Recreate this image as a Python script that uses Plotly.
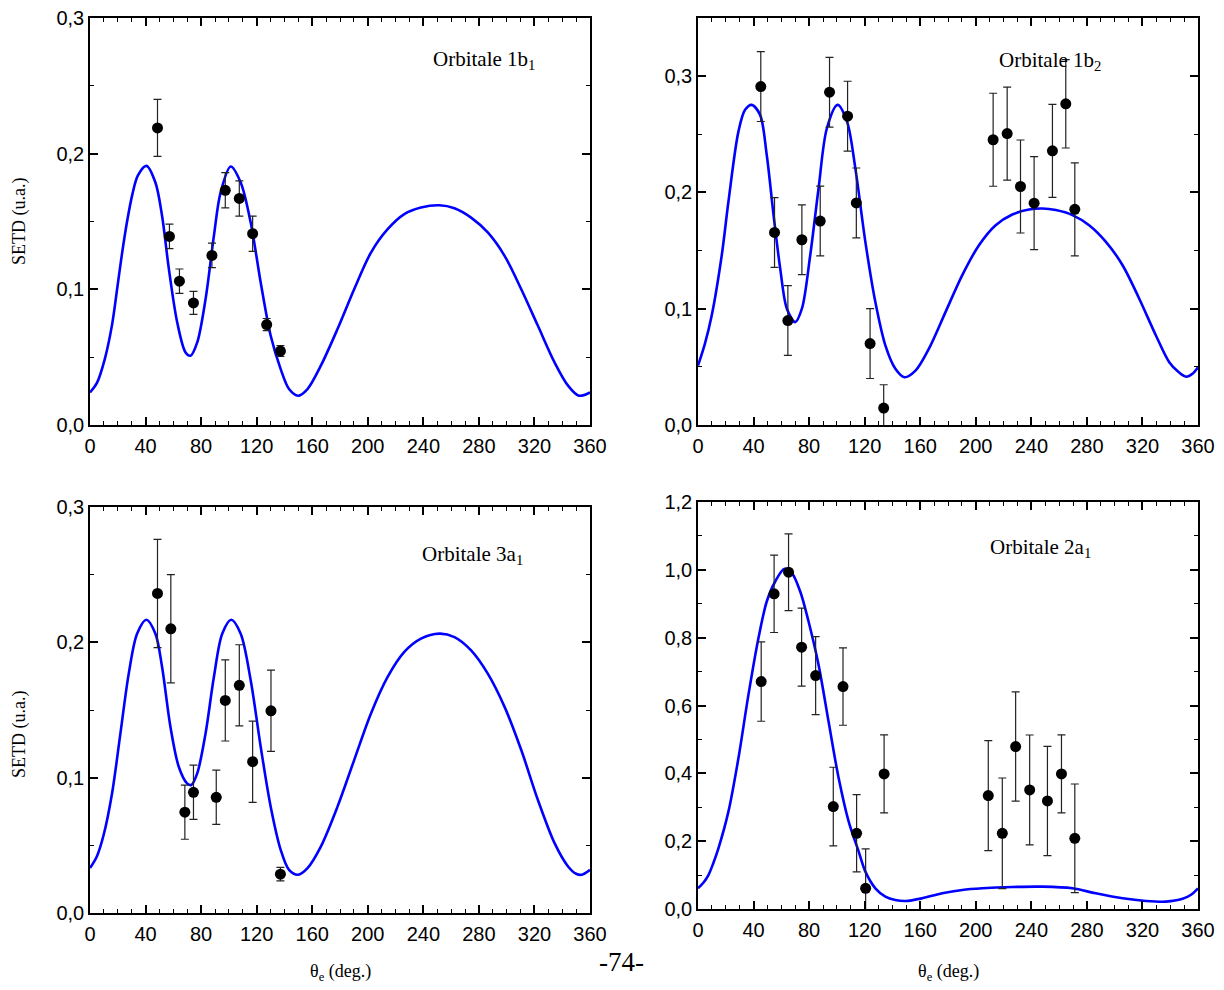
import plotly.graph_objects as go

# ---------------- data ----------------
# Panel 1 : Orbitale 1b1
p1_x = [48.6, 57.2, 64.4, 74.5, 87.8, 97.4, 107.5, 117.1, 127.2, 137.1]
p1_y = [0.219, 0.139, 0.106, 0.090, 0.125, 0.173, 0.167, 0.141, 0.074, 0.0545]
p1_e = [0.021, 0.009, 0.009, 0.0085, 0.009, 0.013, 0.013, 0.013, 0.0045, 0.004]
c1_x = [0, 5, 10.5, 15.9, 19.5, 23.0, 26.7, 30.5, 34.5, 40.6, 47.1, 51.9, 56.8, 62.8, 68.8,
        72.4, 77.2, 83.2, 89.2, 94.0, 101.3, 108.5, 115.7, 122.9, 130.1, 137.3, 143.3, 149.8,
        156.6, 166.2, 178.2, 190.2, 202.3, 214.3, 226.3, 238.3, 251.6, 262.4, 274.4, 286.4,
        298.5, 310.5, 322.5, 334.5, 344.2, 352.0, 360]
c1_y = [0.024, 0.031, 0.048, 0.074, 0.100, 0.126, 0.150, 0.170, 0.184, 0.191, 0.1787, 0.1541,
        0.1149, 0.0756, 0.0535, 0.0511, 0.0609, 0.0928, 0.1394, 0.1713, 0.1905, 0.1787,
        0.1492, 0.1051, 0.0658, 0.0412, 0.0265, 0.0216, 0.0265, 0.0437, 0.0707, 0.1001,
        0.1271, 0.1443, 0.1554, 0.1603, 0.162, 0.1598, 0.1529, 0.1419, 0.1247, 0.1001,
        0.0731, 0.0461, 0.029, 0.0216, 0.024]

# Panel 2 : Orbitale 1b2
p2_x = [45.2, 55.1, 64.7, 74.8, 88.0, 94.7, 107.7, 114.0, 123.9, 133.7,
        212.5, 222.6, 232.2, 242.0, 255.2, 264.8, 271.3]
p2_y = [0.291, 0.1656, 0.0898, 0.1593, 0.1754, 0.2862, 0.2656, 0.191, 0.070, 0.0146,
        0.2453, 0.2506, 0.2051, 0.1908, 0.2358, 0.2762, 0.1855]
p2_e = [0.030, 0.030, 0.030, 0.030, 0.030, 0.030, 0.030, 0.030, 0.030, 0.020,
        0.040, 0.040, 0.040, 0.040, 0.040, 0.038, 0.040]
c2_x = [0, 5, 9.9, 17.1, 21.9, 29.1, 33.9, 38.7, 44.7, 49.5, 54.4, 59.2, 64.0, 70.0, 74.8, 80.8,
        86.8, 92.8, 100.5, 107.3, 113.3, 120.5, 127.7, 134.9, 142.1, 148.6, 156.6, 166.2,
        178.2, 190.2, 202.3, 214.3, 226.3, 238.3, 248.0, 257.6, 269.6, 281.6, 293.7, 305.7,
        317.7, 329.7, 339.3, 346.0, 351.4, 356.0, 360]
c2_y = [0.0511, 0.070, 0.0943, 0.146, 0.192, 0.2523, 0.271, 0.2753, 0.2667, 0.2322, 0.1805,
        0.1345, 0.100, 0.0885, 0.100, 0.146, 0.2034, 0.2552, 0.2753, 0.2609, 0.2207, 0.1575,
        0.1057, 0.0684, 0.0483, 0.0411, 0.0468, 0.0655, 0.0971, 0.1287, 0.1546, 0.1718,
        0.181, 0.1853, 0.1862, 0.1848, 0.1805, 0.1718, 0.1575, 0.1374, 0.1086, 0.077,
        0.054, 0.0455, 0.0415, 0.0440, 0.0497]

# Panel 3 : Orbitale 3a1
p3_x = [48.6, 58.2, 68.3, 74.5, 90.9, 97.4, 107.5, 117.1, 130.3, 137.1]
p3_y = [0.2361, 0.210, 0.0745, 0.0892, 0.0855, 0.1571, 0.1682, 0.1118, 0.1494, 0.0287]
p3_e = [0.040, 0.040, 0.020, 0.020, 0.020, 0.030, 0.030, 0.030, 0.030, 0.005]
c3_x = [0, 5, 9.9, 15.9, 21.9, 27.9, 33.9, 40.6, 47.1, 51.9, 57.9, 63.9, 69.9, 72.9, 77.2, 83.2,
        89.2, 95.2, 101.7, 108.5, 115.7, 122.9, 130.1, 137.3, 143.3, 149.8, 156.6, 166.2,
        178.2, 190.2, 202.3, 214.3, 226.3, 238.3, 251.6, 262.4, 274.4, 286.4, 298.5, 310.5,
        322.5, 334.5, 344.2, 350.0, 354.1, 360]
c3_y = [0.0332, 0.042, 0.058, 0.0885, 0.1327, 0.1769, 0.2064, 0.2167, 0.2064, 0.1818, 0.1376,
        0.1081, 0.0958, 0.0946, 0.1032, 0.1327, 0.1744, 0.2064, 0.2167, 0.2064, 0.172, 0.1229,
        0.0786, 0.0467, 0.0319, 0.0283, 0.0332, 0.0491, 0.0786, 0.113, 0.1474, 0.1744,
        0.1929, 0.2027, 0.2064, 0.2039, 0.1941, 0.1769, 0.1523, 0.1204, 0.0835, 0.0516,
        0.0344, 0.0290, 0.0283, 0.0319]

# Panel 4 : Orbitale 2a1
p4_x = [45.5, 54.8, 65.2, 74.6, 84.7, 97.4, 104.4, 114.2, 120.7, 134.0,
        209.0, 219.1, 228.7, 238.8, 251.6, 261.7, 271.3]
p4_y = [0.6706, 0.9292, 0.993, 0.7719, 0.6883, 0.3019, 0.6558, 0.2232, 0.061, 0.3982,
        0.3343, 0.2232, 0.4789, 0.351, 0.3186, 0.3982, 0.2085]
p4_e = [0.117, 0.114, 0.113, 0.115, 0.115, 0.116, 0.114, 0.114, 0.116, 0.115,
        0.162, 0.163, 0.161, 0.162, 0.161, 0.115, 0.160]
c4_x = [0, 4, 7.5, 11, 14.7, 21.9, 29.1, 36.3, 43.5, 49.5, 55.6, 62.3, 67.6, 73.6, 79.6, 86.8,
        94.0, 101.3, 108.5, 115.7, 120.5, 127.7, 134.9, 142.1, 149.4, 161.4, 175.8, 190.2,
        204.7, 226.3, 248.0, 269.6, 286.4, 305.7, 322.5, 336.9, 348.9, 355.0, 360]
c4_y = [0.061, 0.078, 0.100, 0.135, 0.179, 0.2871, 0.4444, 0.6313, 0.7984, 0.9066, 0.9656,
        1.003, 0.9902, 0.9361, 0.8476, 0.7198, 0.5526, 0.3855, 0.2576, 0.1691, 0.1101, 0.061,
        0.0364, 0.0265, 0.0236, 0.0315, 0.0462, 0.056, 0.061, 0.0649, 0.0659, 0.061, 0.0462,
        0.0315, 0.0236, 0.0216, 0.0300, 0.042, 0.061]

x_ticks = [0, 40, 80, 120, 160, 200, 240, 280, 320, 360]
y_ticks_small = [0.0, 0.1, 0.2, 0.3]
y_ticks_big = [0.0, 0.2, 0.4, 0.6, 0.8, 1.0, 1.2]
labels = ["Orbitale 1b<sub>1</sub>", "Orbitale 1b<sub>2</sub>",
          "Orbitale 3a<sub>1</sub>", "Orbitale 2a<sub>1</sub>"]


def fmt(v):
    return ("%.1f" % v).replace(".", ",")


# ---------------- figure ----------------
# the page body adds an 8 px margin; positions below are in reference-image pixels
OFF = 8
W, H = 1224 - OFF, 990 - OFF


def px(xp):
    return (xp - OFF) / W


def py(yp):
    return 1 - (yp - OFF) / H


fig = go.Figure()

panels = [
    (c1_x, c1_y, p1_x, p1_y, p1_e, (90, 590), (18, 425), [0, 0.3], y_ticks_small, 0.05),
    (c2_x, c2_y, p2_x, p2_y, p2_e, (698, 1198), (18, 425), [0, 0.35], y_ticks_small, 0.05),
    (c3_x, c3_y, p3_x, p3_y, p3_e, (90, 590), (507, 913), [0, 0.3], y_ticks_small, 0.05),
    (c4_x, c4_y, p4_x, p4_y, p4_e, (698, 1198), (502, 909), [0, 1.2], y_ticks_big, 0.1),
]
label_pos = [(484, 60), (1050, 61), (472, 555), (1040, 548)]

tickfont = dict(family="Liberation Sans, Arial, sans-serif", size=20, color="black")

for i, (cx, cy, qx, qy, qe, xr, yr, yrange, yt, yminor) in enumerate(panels):
    n = "" if i == 0 else str(i + 1)
    xa, ya = "x" + n, "y" + n
    fig.add_trace(go.Scatter(x=cx, y=cy, mode="lines", xaxis=xa, yaxis=ya,
                             line=dict(color="#0000ff", width=2.6, shape="spline", smoothing=0.9),
                             showlegend=False, hoverinfo="skip"))
    fig.add_trace(go.Scatter(x=qx, y=qy, mode="markers", xaxis=xa, yaxis=ya,
                             marker=dict(color="black", size=11),
                             error_y=dict(type="data", array=qe, visible=True,
                                          color="#222222", thickness=1.2, width=4),
                             showlegend=False))
    common = dict(showline=True, linecolor="black", linewidth=1.5, mirror="allticks",
                  ticks="inside", ticklen=8, tickwidth=1.5, tickcolor="black",
                  showgrid=False, zeroline=False, tickfont=tickfont, automargin=False,
                  ticklabeloverflow="allow")
    fig.layout["xaxis" + n] = dict(
        domain=[px(xr[0]), px(xr[1])], anchor=ya, range=[0, 360],
        tickvals=x_ticks, ticktext=[str(v) for v in x_ticks], ticklabelstandoff=2,
        minor=dict(dtick=10, tick0=0, ticks="inside", ticklen=4, tickwidth=1.2,
                   tickcolor="black", showgrid=False),
        **common)
    fig.layout["yaxis" + n] = dict(
        domain=[py(yr[1]), py(yr[0])], anchor=xa, range=yrange,
        tickvals=yt, ticktext=[fmt(v) for v in yt],
        minor=dict(dtick=yminor, tick0=0, ticks="inside", ticklen=4, tickwidth=1.2,
                   tickcolor="black", showgrid=False),
        **common)
    lx, ly = label_pos[i]
    fig.add_annotation(x=px(lx), y=py(ly), xref="paper", yref="paper",
                       text=labels[i], showarrow=False, xanchor="center", yanchor="middle",
                       font=dict(family="Liberation Serif, Times New Roman, serif",
                                 size=21, color="black"))

serif = dict(family="Liberation Serif, Times New Roman, serif", color="black")
for yc in (222, 735):
    fig.add_annotation(x=px(19), y=py(yc), xref="paper", yref="paper",
                       text="SETD (u.a.)", textangle=-90, showarrow=False,
                       xanchor="center", yanchor="middle", font=dict(size=18, **serif))
for xc in (340, 948):
    fig.add_annotation(x=px(xc), y=py(972), xref="paper", yref="paper",
                       text="θ<sub>e</sub> (deg.)", showarrow=False,
                       xanchor="center", yanchor="middle", font=dict(size=18, **serif))
fig.add_annotation(x=px(621), y=py(962), xref="paper", yref="paper",
                   text="-74-", showarrow=False, xanchor="center", yanchor="middle",
                   font=dict(size=27, **serif))

fig.update_layout(width=W, height=H, margin=dict(l=0, r=0, t=0, b=0, autoexpand=False),
                  paper_bgcolor="white", plot_bgcolor="white")
fig.write_html("out.html")
